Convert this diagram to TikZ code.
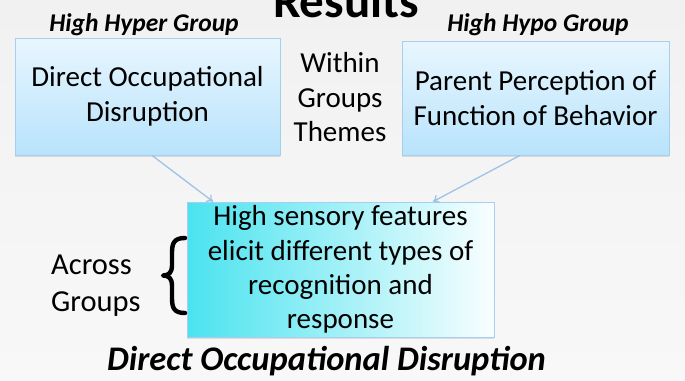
\documentclass[tikz,border=0pt]{standalone}
\usepackage{fontspec}
\setmainfont{Carlito}
\usetikzlibrary{arrows.meta,shadows,calc}
\definecolor{bgtop}{HTML}{F1F1F1}
\definecolor{bgbot}{HTML}{F8F8F8}
\definecolor{boxtop}{HTML}{E8F6FE}
\definecolor{boxbot}{HTML}{B8E3FB}
\definecolor{boxline}{HTML}{A6CFEF}
\definecolor{cyanleft}{HTML}{4AE3EF}
\definecolor{cyanright}{HTML}{F9FEFF}
\definecolor{linkblue}{HTML}{9DC3E6}
\begin{document}
\begin{tikzpicture}[x=1pt,y=-1pt,
  boxshadow/.style={drop shadow={shadow xshift=0pt,shadow yshift=-1.5pt,opacity=0.22}},
  themebox/.style={draw=boxline,line width=0.8pt,top color=boxtop,bottom color=boxbot,
    align=center,inner sep=0pt,font=\fontsize{29}{35}\selectfont,boxshadow},
  summarybox/.style={draw=boxline,line width=0.8pt,left color=cyanleft,right color=cyanright,
    align=center,inner sep=0pt,font=\fontsize{29}{34.3}\selectfont,boxshadow},
  grouplabel/.style={font=\fontsize{25.5}{30}\bfseries\itshape\selectfont,anchor=base,inner sep=0pt},
  sidetext/.style={font=\fontsize{29}{35}\selectfont,inner sep=0pt},
  link/.style={draw=linkblue,line width=1.3pt,-{To[length=6pt,width=9pt]}},
  brace/.style={line width=4.4pt,line cap=round,line join=round}
]
\useasboundingbox (0,0) rectangle (685,380);
\clip (0,0) rectangle (685,380);
\fill[top color=bgtop,bottom color=bgbot] (0,0) rectangle (685,380);

% heading and group labels
\node[font=\fontsize{49}{54}\bfseries\selectfont,anchor=base,inner sep=0pt] (title) at (346,17) {Results};
\node[grouplabel] (hyper) at (144,31) {High Hyper Group};
\node[grouplabel] (hypo) at (538,31) {High Hypo Group};

% within-group theme boxes
\node[themebox,minimum width=265pt,minimum height=117pt] (lbox) at (147.5,96.5)
  {Direct Occupational\\Disruption};
\node[themebox,minimum width=267pt,minimum height=114pt] (rbox) at (535.5,98)
  {Parent Perception of\\Function of Behavior};
\node[sidetext,align=center,font=\fontsize{29}{34.5}\selectfont] (within) at (340,97.4)
  {Within\\Groups\\Themes};

% across-group summary box
\node[summarybox,minimum width=307pt,minimum height=135pt] (bbox) at (340.5,269.5)
  {High sensory features\\elicit different types of\\recognition and\\response};
\node[sidetext,align=left,anchor=west,font=\fontsize{30.5}{37}\selectfont] (across) at (51,286)
  {Across\\Groups};

% curly brace beside the summary box
\draw[brace] (185,238) .. controls (174,238) and (172,243) .. (172,253)
  -- (172,266) .. controls (172,272) and (169,275.5) .. (163,275.5)
  .. controls (169,275.5) and (172,279) .. (172,285)
  -- (172,298) .. controls (172,308) and (174,313) .. (185,313);

% connectors
\draw[link] ([xshift=4.5pt]lbox.south) -- ([xshift=-127.5pt]bbox.north);
\draw[link] ([xshift=-15.5pt]rbox.south) -- ([xshift=92.5pt]bbox.north);

\node[font=\fontsize{34.5}{40}\bfseries\itshape\selectfont,anchor=base,inner sep=0pt] (theme) at (326.5,370.5)
  {Direct Occupational Disruption};
\end{tikzpicture}
\end{document}
